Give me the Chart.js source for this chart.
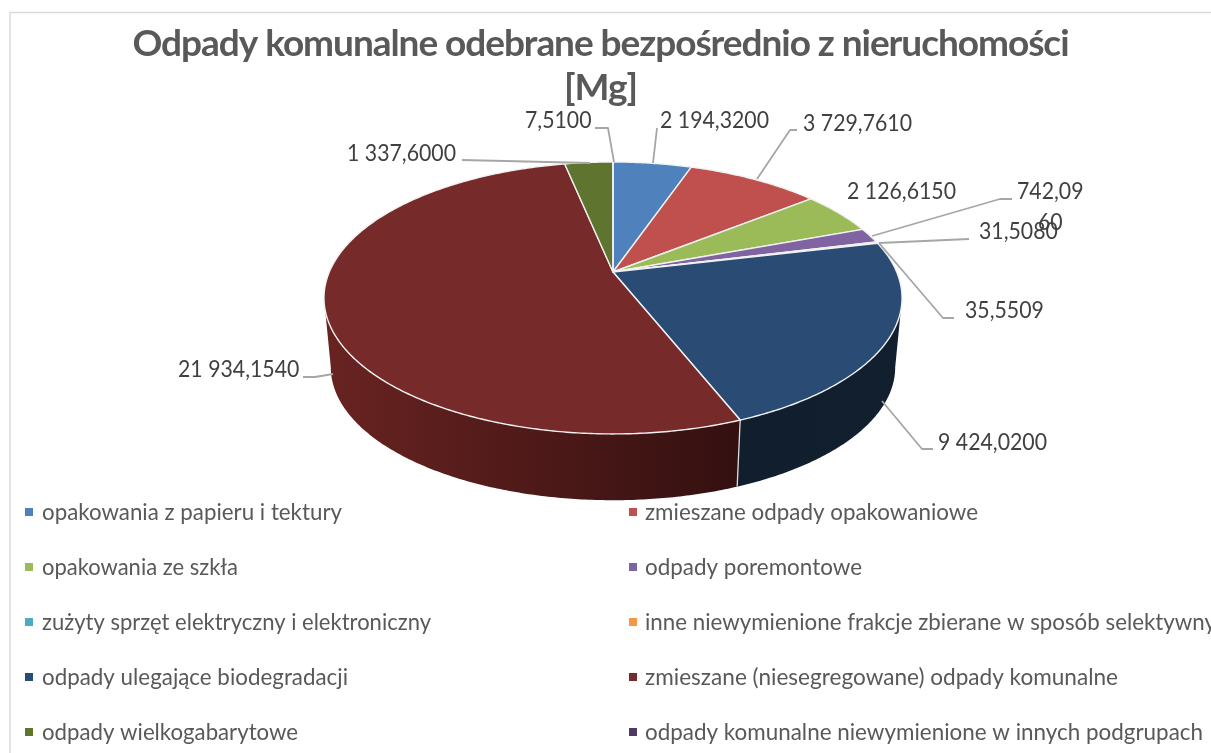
<!DOCTYPE html>
<html lang="pl">
<head>
<meta charset="utf-8">
<title>Odpady komunalne</title>
<script src="https://cdn.jsdelivr.net/npm/chart.js@4"></script>
<style>
html,body{margin:0;padding:0;background:#fff;overflow:hidden}
canvas{display:block}
</style>
</head>
<body>
<canvas id="c" width="1211" height="753"></canvas>
<script>
const titleLines = ['Odpady komunalne odebrane bezpośrednio z nieruchomości', '[Mg]'];
const categories = [
  'opakowania z papieru i tektury',
  'zmieszane odpady opakowaniowe',
  'opakowania ze szkła',
  'odpady poremontowe',
  'zużyty sprzęt elektryczny i elektroniczny',
  'inne niewymienione frakcje zbierane w sposób selektywny',
  'odpady ulegające biodegradacji',
  'zmieszane (niesegregowane) odpady komunalne',
  'odpady wielkogabarytowe',
  'odpady komunalne niewymienione w innych podgrupach'
];
const tonnes = [2194.32, 3729.761, 2126.615, 742.096, 31.508, 35.5509, 9424.02, 21934.154, 1337.6, 7.51];
const sliceColors = ['#4f81bd','#c0504d','#9bbb59','#8064a2','#4bacc6','#f79646','#2a4b73','#772a2a','#5f752f','#4d3b62'];

// Text measures of the legend entries (px)
const legendWidths = [300,333,196,217,389,571,306,473,256,558];

// Layout of the value labels: anchor of text and its leader line
const labelLayout = [
  {x:660, y:121, leader:[[657,128],[653,163]]},
  {x:803, y:124, leader:[[797,130],[790,130],[757,179]]},
  {x:847, y:192, leader:null},
  {x:1017, y:192, leader:[[1012,199],[1000,199],[872,236]], wrap:6},
  {x:979, y:232, leader:[[969,239],[879,243]]},
  {x:965, y:311, leader:[[954,318],[943,318],[879,243]]},
  {x:938, y:443, leader:[[933,449],[922,449],[882,401]]},
  {x:178, y:370, leader:[[303,377],[315,377],[333,374]]},
  {x:347, y:154, leader:[[462,160],[590,163]]},
  {x:525, y:121, leader:[[595,128],[608,128],[614,162]]}
];

// Perspective view of the pie disc
const view = {cx:613, cy:272, bx:283.7, ay:131, k:-0.191, botBx:277, botAy:128, botCy:342};
function topPt(a){const u=Math.cos(a),v=Math.sin(a),d=1+view.k*v;return [view.cx+view.bx*u/d, view.cy+view.ay*v/d];}
function botPt(a){const u=Math.cos(a),v=Math.sin(a),d=1+view.k*v;return [view.cx+view.botBx*u/d, view.botCy+view.botAy*v/d];}
const silhouette = Math.asin(-view.k);

const wallStyle = {
  6:{from:'#121f2e', to:'#111e2d'},
  7:{from:'#341010', to:'#682321'}
};

function fmt(v){
  const s=v.toFixed(4).split('.');
  return s[0].replace(/\B(?=(\d{3})+$)/g,' ')+','+s[1];
}
const FONT='Lato, sans-serif';
const TITLE_SIZE=37;
function fitText(ctx,txt,x,y,scale){
  ctx.save();
  ctx.translate(x,y);
  ctx.scale(scale,1);
  ctx.textAlign='left';
  ctx.textBaseline='middle';
  ctx.fillText(txt,0,0);
  ctx.restore();
}

// Arc elements draw themselves through the perspective view
Chart.ArcElement.prototype.draw = function(ctx){
  const o=this.options;
  const s=this.startAngle,e=this.endAngle;
  const n=Math.max(2,Math.ceil((e-s)/0.01));
  ctx.save();
  ctx.beginPath();
  ctx.moveTo(view.cx,view.cy);
  for(let i=0;i<=n;i++){const p=topPt(s+(e-s)*i/n);ctx.lineTo(p[0],p[1]);}
  ctx.closePath();
  ctx.fillStyle=o.backgroundColor;
  ctx.fill();
  ctx.lineWidth=o.borderWidth;
  ctx.strokeStyle=o.borderColor;
  ctx.lineJoin='round';
  ctx.stroke();
  ctx.restore();
};

const scene = {
  id:'scene',
  beforeDraw(chart){
    const ctx=chart.ctx;
    ctx.save();
    ctx.fillStyle='#fff';
    ctx.fillRect(0,0,chart.width,chart.height);
    ctx.strokeStyle='#d9d9d9';
    ctx.lineWidth=1.5;
    ctx.beginPath();
    ctx.moveTo(10,chart.height);ctx.lineTo(10,12.5);ctx.lineTo(chart.width,12.5);
    ctx.stroke();
    ctx.restore();
    // narrow the title to its reference measure
    ctx.save();
    ctx.font='bold '+TITLE_SIZE+'px '+FONT;
    const w=ctx.measureText(titleLines[0]).width;
    ctx.restore();
    ctx.letterSpacing=((937-w)/(titleLines[0].length-1)).toFixed(3)+'px';
  },
  beforeDatasetsDraw(chart){
    const ctx=chart.ctx;
    ctx.letterSpacing='0px';
    const arcs=chart.getDatasetMeta(0).data;
    arcs.forEach((arc,i)=>{
      const s=Math.max(arc.startAngle,silhouette), e=Math.min(arc.endAngle,Math.PI-silhouette);
      if(e<=s) return;
      const p0=botPt(e),p1=botPt(s);
      const g=ctx.createLinearGradient(p0[0],0,p1[0],0);
      const st=wallStyle[i]||{from:'#222',to:'#222'};
      g.addColorStop(1,st.from);
      g.addColorStop(0,st.to);
      ctx.save();
      ctx.fillStyle=g;
      const n=Math.max(2,Math.ceil((e-s)/0.01));
      ctx.beginPath();
      for(let k=0;k<=n;k++){const p=topPt(s+(e-s)*k/n);k?ctx.lineTo(p[0],p[1]):ctx.moveTo(p[0],p[1]);}
      for(let k=n;k>=0;k--){const p=botPt(s+(e-s)*k/n);ctx.lineTo(p[0],p[1]);}
      ctx.closePath();
      ctx.fill();
      ctx.restore();
    });
    // seam between front walls
    arcs.forEach(arc=>{
      const a=arc.endAngle;
      if(a>0.05&&a<Math.PI-0.05){
        const t=topPt(a),b=botPt(a);
        ctx.save();
        ctx.strokeStyle='#dcdcdc';ctx.lineWidth=1.3;
        ctx.beginPath();ctx.moveTo(t[0],t[1]);ctx.lineTo(b[0],b[1]);ctx.stroke();
        ctx.restore();
      }
    });
  },
  afterDatasetsDraw(chart){
    const ctx=chart.ctx;
    const vals=chart.data.datasets[0].data;
    // leader lines
    ctx.save();
    ctx.strokeStyle='#a6a6a6';ctx.lineWidth=1.8;ctx.lineJoin='round';
    labelLayout.forEach(l=>{
      if(!l.leader) return;
      ctx.beginPath();
      l.leader.forEach((p,i)=>i?ctx.lineTo(p[0],p[1]):ctx.moveTo(p[0],p[1]));
      ctx.stroke();
    });
    // value labels
    ctx.fillStyle='#404040';
    ctx.font='23px '+FONT;
    const labelScale=109/ctx.measureText(fmt(tonnes[0])).width;
    labelLayout.forEach((l,i)=>{
      const t=fmt(vals[i]);
      if(l.wrap){
        fitText(ctx,t.slice(0,l.wrap),l.x,l.y,labelScale);
        const tail=t.slice(l.wrap);
        const lw=ctx.measureText(t.slice(0,l.wrap)).width*labelScale;
        const tw=ctx.measureText(tail).width*labelScale;
        fitText(ctx,tail,l.x+(lw-tw)/2,l.y+31,labelScale);
      } else fitText(ctx,t,l.x,l.y,labelScale);
    });
    // legend, two columns
    ctx.font='23px '+FONT;
    chart.data.labels.forEach((name,i)=>{
      const col=i%2,row=(i-col)/2;
      const y=512+row*55;
      const mx=col?629:25, tx=col?645:42;
      ctx.fillStyle=chart.data.datasets[0].backgroundColor[i];
      ctx.fillRect(mx,y-4,8,8);
      ctx.fillStyle='#595959';
      fitText(ctx,name,tx,y+0.5,legendWidths[i]/ctx.measureText(name).width);
    });
    ctx.restore();
  }
};

new Chart(document.getElementById('c'),{
  type:'pie',
  data:{labels:categories,datasets:[{data:tonnes,backgroundColor:sliceColors,borderColor:'#f1f1f1',borderWidth:1.4}]},
  options:{
    responsive:false,
    animation:false,
    layout:{padding:{right:10}},
    plugins:{
      legend:{display:false},
      tooltip:{enabled:false},
      title:{display:true,text:titleLines,color:'#595959',align:'center',
        font:{family:FONT,size:TITLE_SIZE,weight:'bold',lineHeight:1.19},padding:{top:22,bottom:0}}
    }
  },
  plugins:[scene]
});
</script>
</body>
</html>
